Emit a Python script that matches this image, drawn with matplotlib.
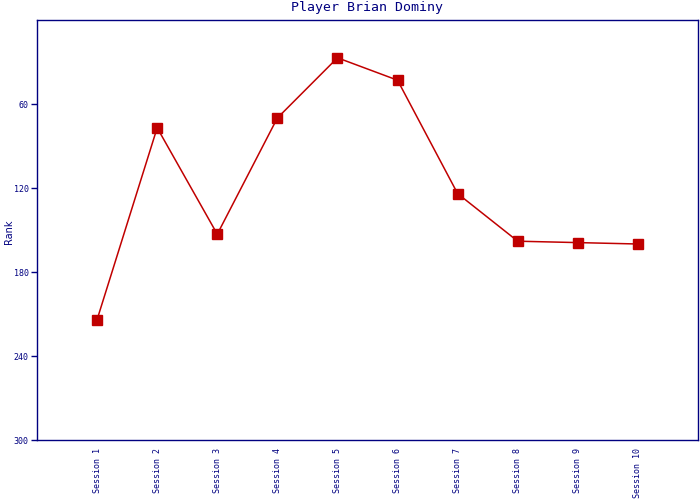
import matplotlib
matplotlib.use('Agg')
import matplotlib.pyplot as plt

sessions = ['Session 1', 'Session 2', 'Session 3', 'Session 4', 'Session 5',
            'Session 6', 'Session 7', 'Session 8', 'Session 9', 'Session 10']
ranks = [214, 77, 153, 70, 27, 43, 124, 158, 159, 160]
yticks = [60, 120, 180, 240, 300]

navy = '#000080'
red = '#c00000'

fig = plt.figure(figsize=(7, 5), dpi=100)
ax = fig.add_axes([37 / 700, 60 / 500, 661 / 700, 420 / 500])

x = list(range(1, len(ranks) + 1))
ax.plot(x, ranks, color=red, linewidth=1.1, marker='s', markersize=7,
        markerfacecolor=red, markeredgecolor=red)

ax.set_xlim(0, 11)
ax.set_ylim(300, 0)
ax.set_xticks(x)
ax.set_xticklabels(sessions, rotation=90, fontsize=6, family='DejaVu Sans Mono',
                   color=navy, va='top')
ax.set_yticks(yticks)
ax.set_yticklabels([str(v) for v in yticks], fontsize=6, family='DejaVu Sans Mono',
                   color=navy)
ax.tick_params(axis='x', length=0, pad=6)
ax.tick_params(axis='y', length=4, color=navy, width=1, pad=2)

for s in ax.spines.values():
    s.set_color(navy)
    s.set_linewidth(1)

fig.text(9 / 700, 1 - 232 / 500, 'Rank', rotation=90, ha='center', va='center',
         fontsize=7, color=navy)
fig.text(367 / 700, 1 - 8 / 500, 'Player Brian Dominy', ha='center', va='center',
         fontsize=9.5, family='DejaVu Sans Mono', color=navy)

fig.savefig('out.png', dpi=100)
